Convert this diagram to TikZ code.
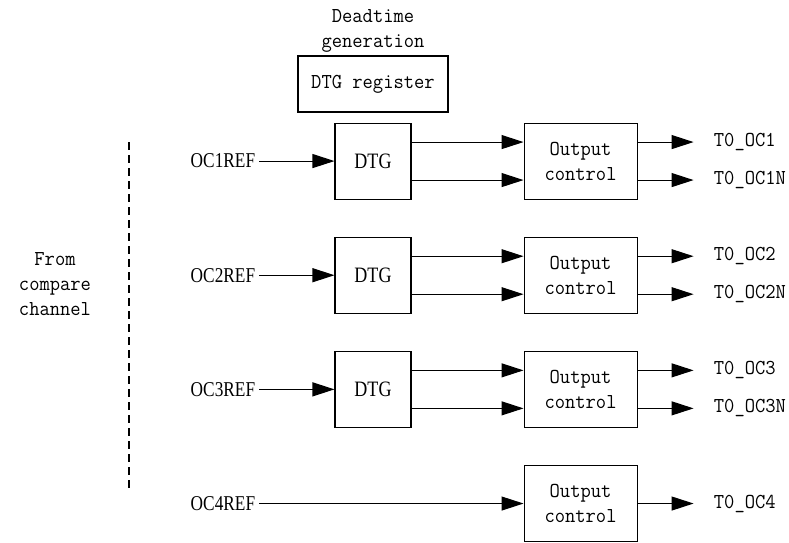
\documentclass[tikz,border=0pt]{standalone}
\usepackage{fontspec}
\usetikzlibrary{arrows.meta, positioning}
\newfontfamily\monofont{Latin Modern Mono}[FakeStretch=0.94]
\newfontfamily\narrowfont{Liberation Serif}[FakeStretch=0.82]

\begin{document}
\begin{tikzpicture}[
    node distance=0.742cm and 2.24cm,
    box/.style={draw, line width=0.6pt, minimum height=1.52cm, inner sep=0pt, align=center},
    dtgbox/.style={box, minimum width=1.52cm, font=\narrowfont\fontsize{12.5}{14}\selectfont},
    ocbox/.style={box, minimum width=2.26cm, font=\monofont\fontsize{12.1}{14.2}\selectfont},
    regbox/.style={box, minimum width=3cm, minimum height=1.12cm, font=\monofont\fontsize{12.1}{14.2}\selectfont},
    arrow/.style={-{Triangle[length=0.44cm, width=0.28cm]}, line width=0.6pt},
    inlbl/.style={font=\narrowfont\fontsize{12}{14}\selectfont, inner xsep=0.08cm, inner ysep=0pt},
    outlbl/.style={font=\monofont\fontsize{12.1}{14.2}\selectfont, inner xsep=0.4cm, inner ysep=0pt, anchor=west},
    note/.style={font=\monofont\fontsize{12.1}{14.2}\selectfont, align=center},
  ]
  \useasboundingbox (0,0) rectangle (15.78,-10.84);
  % deadtime register on top
  \node[regbox] (dtgreg) at (7.46,-1.68) {DTG register};
  \node[note, above=-0.06cm of dtgreg] (dtgnote) {Deadtime\\generation};
  % DTG blocks
  \node[dtgbox, below=0.2cm of dtgreg] (dtg1) {DTG};
  \node[dtgbox, below=of dtg1] (dtg2) {DTG};
  \node[dtgbox, below=of dtg2] (dtg3) {DTG};
  % output control blocks
  \node[ocbox, right=of dtg1] (oc1) {Output\\control};
  \node[ocbox, right=of dtg2] (oc2) {Output\\control};
  \node[ocbox, right=of dtg3] (oc3) {Output\\control};
  \node[ocbox, below=of oc3] (oc4) {Output\\control};
  % reference inputs
  \node[inlbl, left=1.5cm of dtg1] (ref1) {OC1REF};
  \node[inlbl, left=1.5cm of dtg2] (ref2) {OC2REF};
  \node[inlbl, left=1.5cm of dtg3] (ref3) {OC3REF};
  \node[inlbl, anchor=east] (ref4) at (ref3.east |- oc4) {OC4REF};
  % outputs
  \node[outlbl] (t1) at ([xshift=1.12cm, yshift=0.38cm]oc1.east) {T0\_OC1};
  \node[outlbl] (t1n) at ([xshift=1.12cm, yshift=-0.38cm]oc1.east) {T0\_OC1N};
  \node[outlbl] (t2) at ([xshift=1.12cm, yshift=0.38cm]oc2.east) {T0\_OC2};
  \node[outlbl] (t2n) at ([xshift=1.12cm, yshift=-0.38cm]oc2.east) {T0\_OC2N};
  \node[outlbl] (t3) at ([xshift=1.12cm, yshift=0.38cm]oc3.east) {T0\_OC3};
  \node[outlbl] (t3n) at ([xshift=1.12cm, yshift=-0.38cm]oc3.east) {T0\_OC3N};
  \node[outlbl] (t4) at ([xshift=1.12cm]oc4.east) {T0\_OC4};
  % compare channel side
  \node[note] (src) at (1.1,-5.68) {From\\compare\\channel};
  \draw[line width=0.6pt, dash pattern=on 0.16cm off 0.1cm] (2.58,-2.84) -- (2.58,-9.76);

  \draw[arrow] (ref1) -- (dtg1);
  \draw[arrow] (ref2) -- (dtg2);
  \draw[arrow] (ref3) -- (dtg3);
  \draw[arrow] (ref4) -- (oc4);
  \draw[arrow] ([yshift=0.38cm]dtg1.east) -- ([yshift=0.38cm]oc1.west);
  \draw[arrow] ([yshift=-0.38cm]dtg1.east) -- ([yshift=-0.38cm]oc1.west);
  \draw[arrow] ([yshift=0.38cm]dtg2.east) -- ([yshift=0.38cm]oc2.west);
  \draw[arrow] ([yshift=-0.38cm]dtg2.east) -- ([yshift=-0.38cm]oc2.west);
  \draw[arrow] ([yshift=0.38cm]dtg3.east) -- ([yshift=0.38cm]oc3.west);
  \draw[arrow] ([yshift=-0.38cm]dtg3.east) -- ([yshift=-0.38cm]oc3.west);
  \draw[arrow] ([yshift=0.38cm]oc1.east) -- (t1);
  \draw[arrow] ([yshift=-0.38cm]oc1.east) -- (t1n);
  \draw[arrow] ([yshift=0.38cm]oc2.east) -- (t2);
  \draw[arrow] ([yshift=-0.38cm]oc2.east) -- (t2n);
  \draw[arrow] ([yshift=0.38cm]oc3.east) -- (t3);
  \draw[arrow] ([yshift=-0.38cm]oc3.east) -- (t3n);
  \draw[arrow] (oc4) -- (t4);
\end{tikzpicture}
\end{document}
